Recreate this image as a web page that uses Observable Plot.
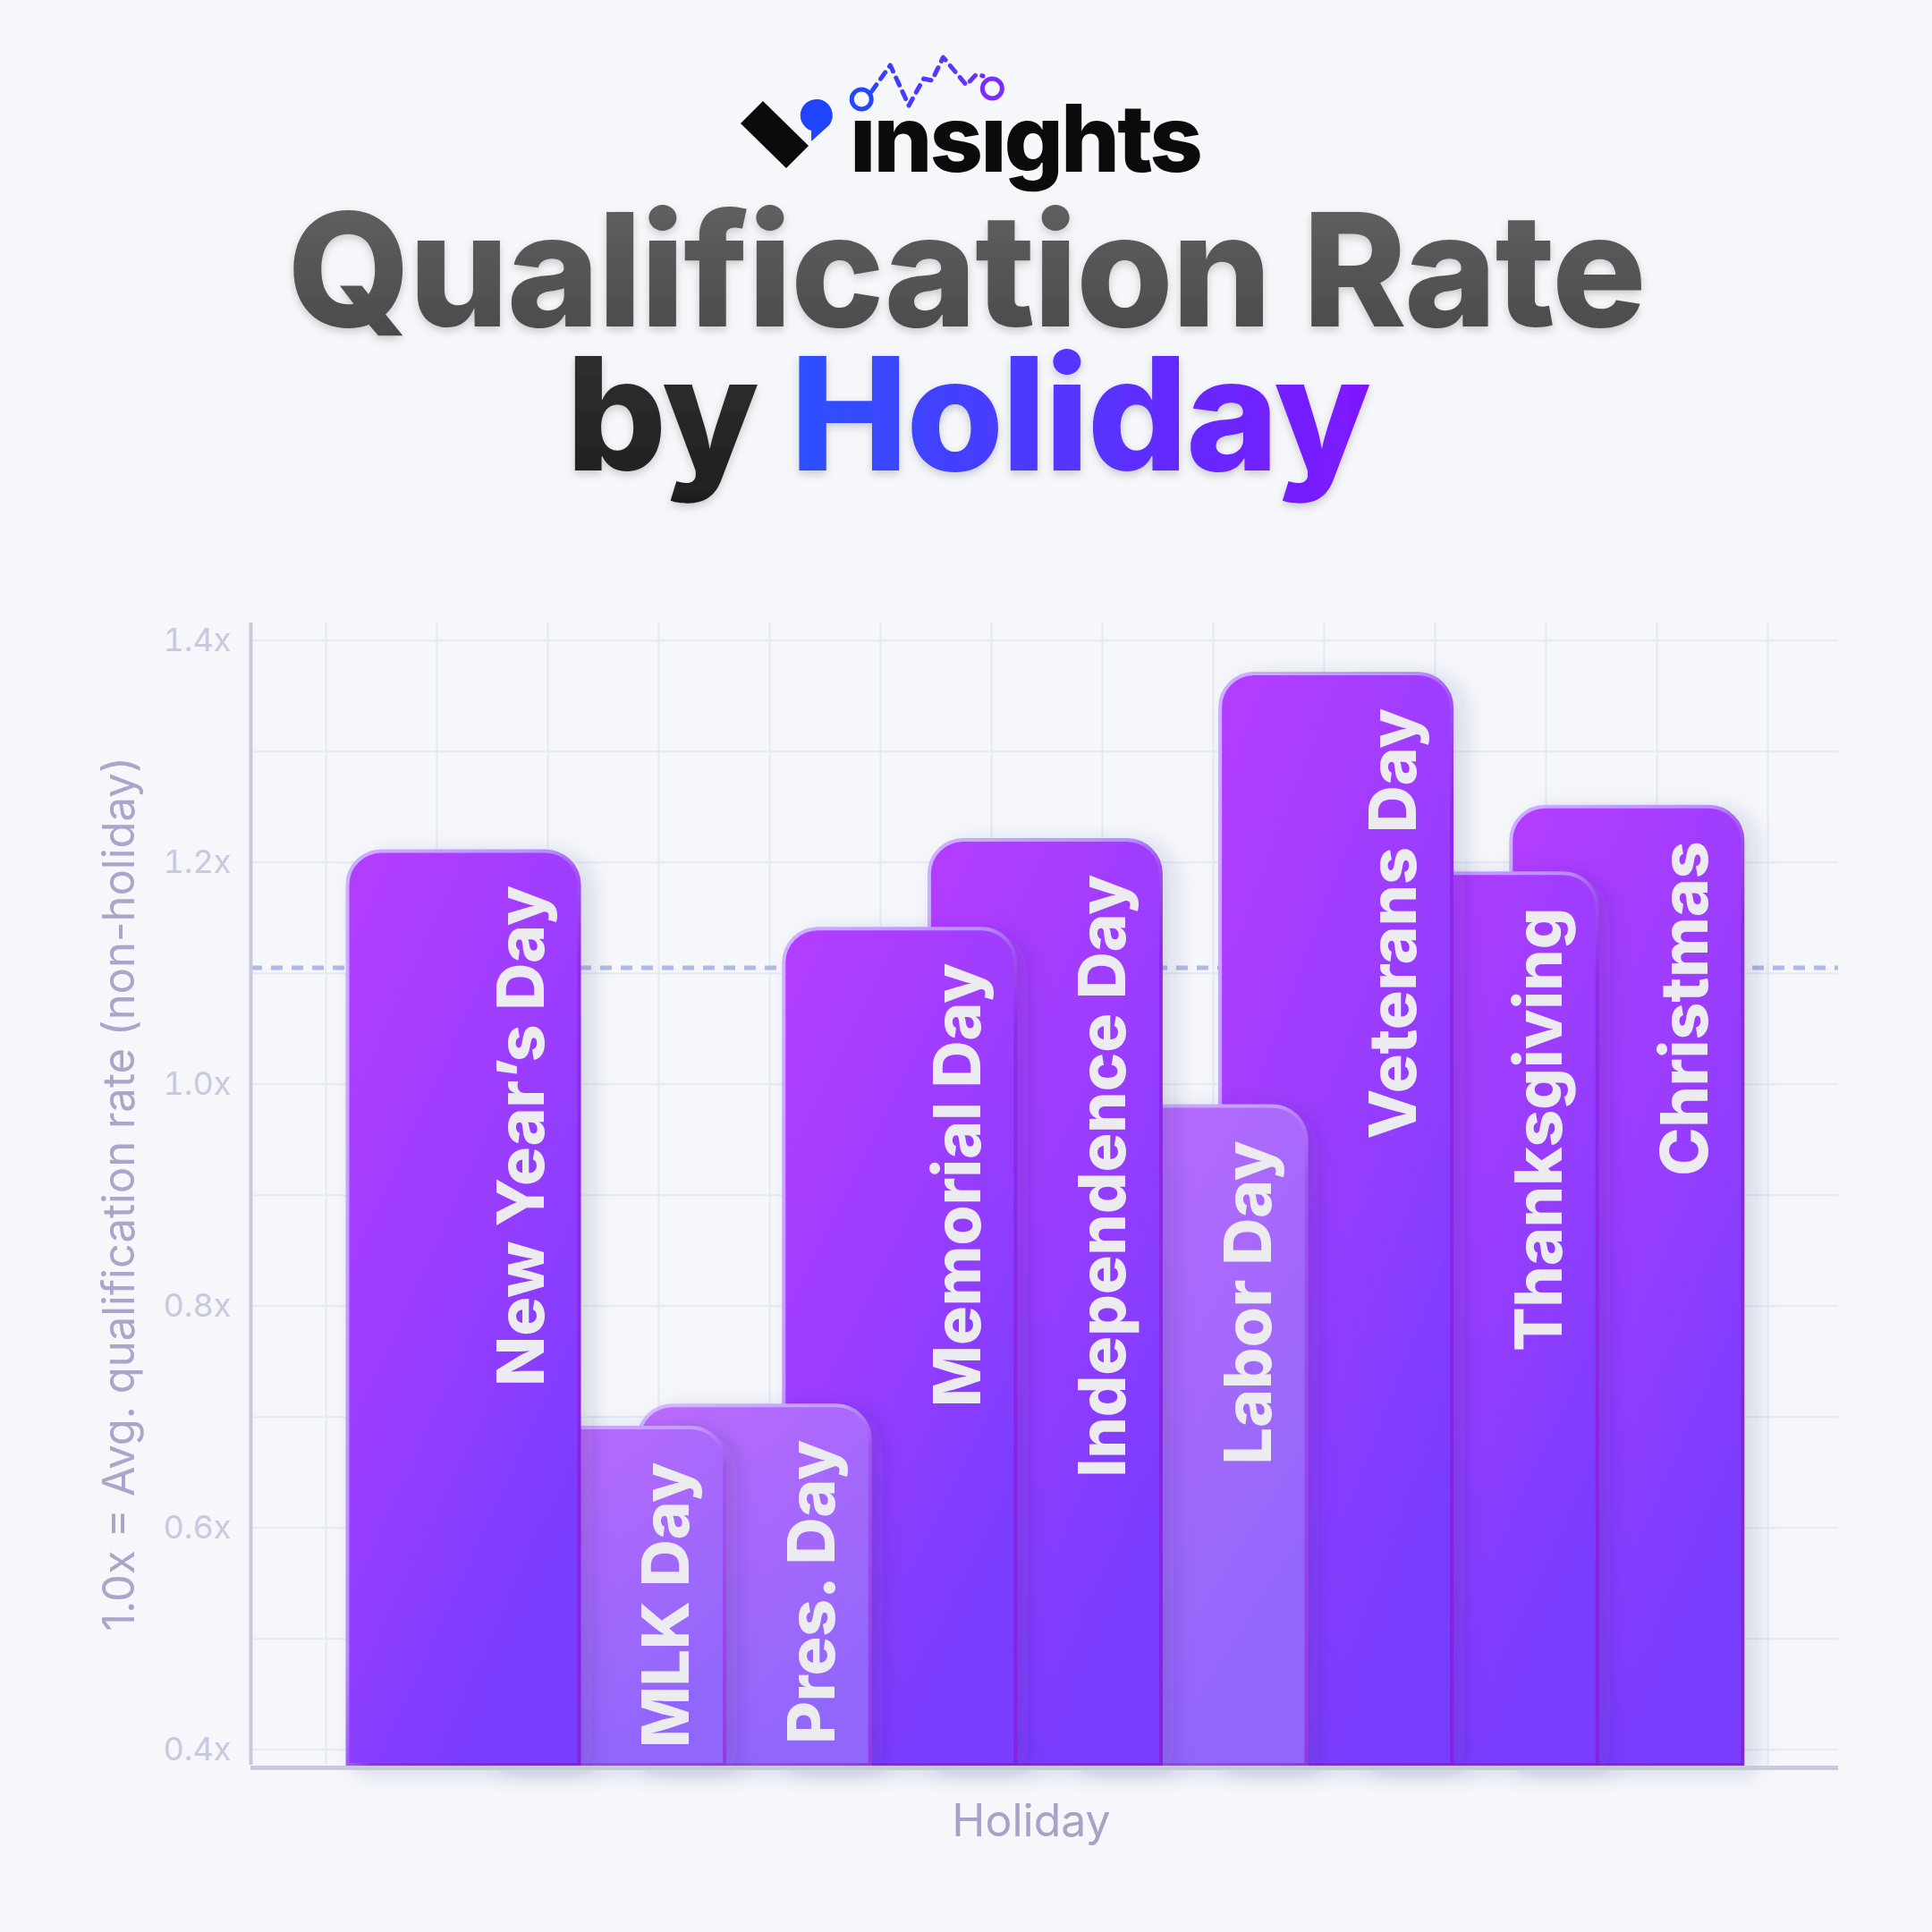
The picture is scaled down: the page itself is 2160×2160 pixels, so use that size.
<!DOCTYPE html>
<html>
<head>
<meta charset="utf-8">
<script src="https://cdn.jsdelivr.net/npm/d3@7"></script>
<script src="https://cdn.jsdelivr.net/npm/@observablehq/plot@0.6"></script>
<style>
  html, body { margin: 0; padding: 0; background: #f5f7fb; }
  #page { position: relative; width: 2160px; height: 2160px; overflow: hidden; background: #f5f7fb; font-family: Inter, "Noto Sans", sans-serif; }
  #header { position: absolute; left: 0; top: 0; }
  #chart { position: absolute; left: 0; top: 600px; }
</style>
</head>
<body>
<div id="page">
  <svg id="header" width="2160" height="600" xmlns="http://www.w3.org/2000/svg">
    <defs>
      <linearGradient id="dashGrad" gradientUnits="userSpaceOnUse" x1="950" y1="0" x2="1112" y2="0">
        <stop offset="0" stop-color="#2347ff"/><stop offset="1" stop-color="#7a2cff"/>
      </linearGradient>
      <linearGradient id="t1Grad" x1="0" y1="0" x2="0" y2="1">
        <stop offset="0" stop-color="#646464"/><stop offset="1" stop-color="#474747"/>
      </linearGradient>
      <linearGradient id="byGrad" x1="0" y1="0" x2="0" y2="1">
        <stop offset="0" stop-color="#333333"/><stop offset="1" stop-color="#1e1e1e"/>
      </linearGradient>
      <linearGradient id="holGrad" gradientUnits="userSpaceOnUse" x1="890" y1="0" x2="1525" y2="0">
        <stop offset="0" stop-color="#2c50ff"/><stop offset="1" stop-color="#7e18ff"/>
      </linearGradient>
      <filter id="titleShadow" x="-5%" y="-20%" width="110%" height="140%">
        <feDropShadow dx="0" dy="4" stdDeviation="5" flood-color="#000" flood-opacity="0.18"/>
      </filter>
    </defs>
    <path d="M828,138 L853,113 L904,163 L879,188 Z" fill="#0b0b0b"/>
    <path d="M907,158 L907,146 A18,18 0 1 1 927,140 Z" fill="#1f45ff"/>
    <text id="logoText" x="950" y="192" font-family="Inter, sans-serif" font-weight="800" font-size="104" letter-spacing="-3" fill="#0b0b0b">ınsıghts</text>
    <g id="logoDots"></g>
    <g filter="url(#titleShadow)">
      <text x="1080" y="365" text-anchor="middle" font-family="Inter, sans-serif" font-weight="800" font-size="176" letter-spacing="-2" fill="url(#t1Grad)">Qualification Rate</text>
      <text x="1082" y="526" text-anchor="middle" font-family="Inter, sans-serif" font-weight="800" font-size="176" letter-spacing="-2"><tspan fill="url(#byGrad)">by</tspan> <tspan fill="url(#holGrad)">Holiday</tspan></text>
    </g>
  </svg>
  <div id="chart"></div>
</div>
<script>
// ---- data ----
const holidays = ["New Year’s Day", "MLK Day", "Pres. Day", "Memorial Day", "Independence Day", "Labor Day", "Veterans Day", "Thanksgiving", "Christmas"];
const rates = [1.21, 0.69, 0.71, 1.14, 1.22, 0.98, 1.37, 1.19, 1.25];
const referenceRate = 1.105;
const yTicks = [0.4, 0.6, 0.8, 1.0, 1.2, 1.4];
const yGrid = [0.4, 0.5, 0.6, 0.7, 0.8, 0.9, 1.0, 1.1, 1.2, 1.3, 1.4];
const yLabel = "1.0x = Avg. qualification rate (non-holiday)";
const xLabel = "Holiday";

// ---- logo dots (decorative) ----
(function () {
  const NS = "http://www.w3.org/2000/svg";
  const t = document.getElementById("logoText");
  let c1x = 960, c2x = 1101;
  try {
    const e0 = t.getExtentOfChar(0), e3 = t.getExtentOfChar(3);
    c1x = e0.x + e0.width / 2; c2x = e3.x + e3.width / 2;
  } catch (e) {}
  const refPts = [[971,102],[991,73],[1011,118],[1027,88],[1036,90],[1048,64],[1073,95],[1084,83],[1091,85]];
  const k = (c2x - c1x) / (1101 - 960);
  const pts = refPts.map(([x, y]) => [c1x + (x - 960) * k, y]);
  const g = document.getElementById("logoDots");
  const pl = document.createElementNS(NS, "polyline");
  pl.setAttribute("points", pts.map(p => p.join(",")).join(" "));
  pl.setAttribute("fill", "none");
  pl.setAttribute("stroke", "url(#dashGrad)");
  pl.setAttribute("stroke-width", "5");
  pl.setAttribute("stroke-dasharray", "9,8");
  pl.setAttribute("stroke-linecap", "round");
  pl.setAttribute("stroke-linejoin", "round");
  g.appendChild(pl);
  [[c1x, 111, "#2347ff"], [c2x, 99, "#7a2cff"]].forEach(([x, y, c]) => {
    const ci = document.createElementNS(NS, "circle");
    ci.setAttribute("cx", x); ci.setAttribute("cy", y); ci.setAttribute("r", 11);
    ci.setAttribute("fill", "none"); ci.setAttribute("stroke", c); ci.setAttribute("stroke-width", 5);
    g.appendChild(ci);
  });
})();

// ---- chart ----
const data = holidays.map((holiday, i) => ({holiday, rate: rates[i], i}));
const drawOrder = data.slice().reverse(); // left bars overlap right bars
const xDomain = [-1.4637, 9.4526];
const yDomain = [0.386, 1.416];
const halfW = 0.7964;
const vGrid = d3.range(14).map(k => -0.9471 + k * 0.7626);

const svg = Plot.plot({
  width: 2160,
  height: 1493,
  marginLeft: 280,
  marginRight: 105,
  marginTop: 96,
  marginBottom: 120,
  style: {background: "transparent", fontFamily: "Inter, 'Noto Sans', sans-serif", fontSize: "36px", color: "#c9c8de"},
  x: {type: "linear", domain: xDomain, axis: null},
  y: {domain: yDomain},
  marks: [
    Plot.ruleY(yGrid, {stroke: "#e3e9f7", strokeWidth: 2}),
    Plot.ruleX(vGrid, {stroke: "#e3e9f7", strokeWidth: 2}),
    Plot.ruleY([referenceRate], {stroke: "#adbae6", strokeWidth: 5, strokeDasharray: "13,10"}),
    Plot.rect(drawOrder, {x1: d => d.i - halfW, x2: d => d.i + halfW, y1: yDomain[0], y2: "rate", fill: "#9b3cff"}),
    Plot.ruleX([xDomain[0]], {stroke: "#c9c9dc", strokeWidth: 4}),
    Plot.ruleY([yDomain[0]], {stroke: "#c9c9dc", strokeWidth: 5, dy: 3}),
    Plot.text(data, {x: "i", y: "rate", text: "holiday", rotate: -90, textAnchor: "end", lineAnchor: "middle", dx: 66, dy: 38, fill: "#ececf0", fontSize: 73, fontWeight: 800}),
    Plot.axisY(yTicks, {tickSize: 0, tickPadding: 22, tickFormat: d => d.toFixed(1) + "x", fill: "#c9c8de", fontSize: 36, label: null}),
    Plot.text([yLabel], {text: d => d, frameAnchor: "left", rotate: -90, dx: -146, fill: "#a9a6c9", fontSize: 49, textAnchor: "middle", lineAnchor: "middle"}),
    Plot.text([xLabel], {text: d => d, frameAnchor: "bottom", dy: 63, dx: -15, fill: "#a6a3c6", fontSize: 50, textAnchor: "middle", lineAnchor: "middle"})
  ]
});

// gradients, shadow and rounded tops for the bars
const NS = "http://www.w3.org/2000/svg";
const defs = document.createElementNS(NS, "defs");
defs.innerHTML = `
  <linearGradient id="barDark" x1="0" y1="0" x2="0.55" y2="1">
    <stop offset="0" stop-color="#b43cff"/><stop offset="0.5" stop-color="#9b3cff"/><stop offset="1" stop-color="#783cff"/>
  </linearGradient>
  <linearGradient id="barLight" x1="0" y1="0" x2="0.55" y2="1">
    <stop offset="0" stop-color="#bd6bfd"/><stop offset="1" stop-color="#9066fb"/>
  </linearGradient>
  <linearGradient id="strokeDark" x1="0" y1="0" x2="1" y2="1">
    <stop offset="0" stop-color="#cfb0ff"/><stop offset="0.44" stop-color="#b98cff"/>
    <stop offset="0.56" stop-color="#8f2ae8"/><stop offset="1" stop-color="#8420e0"/>
  </linearGradient>
  <linearGradient id="strokeLight" x1="0" y1="0" x2="1" y2="1">
    <stop offset="0" stop-color="#d4b8ff"/><stop offset="0.44" stop-color="#c39cff"/>
    <stop offset="0.56" stop-color="#9e55f0"/><stop offset="1" stop-color="#9438e6"/>
  </linearGradient>
  <filter id="barShadow" x="-30%" y="-10%" width="170%" height="125%">
    <feDropShadow dx="12" dy="6" stdDeviation="12" flood-color="#2b2b5e" flood-opacity="0.16"/>
  </filter>`;
svg.insertBefore(defs, svg.firstChild);

const barGroup = svg.querySelector('g[aria-label="rect"]');
if (barGroup) {
  barGroup.removeAttribute("fill");
  Array.from(barGroup.querySelectorAll("rect")).forEach((r, k) => {
    const d = drawOrder[k];
    const x = +r.getAttribute("x"), y = +r.getAttribute("y");
    const w = +r.getAttribute("width"), h = +r.getAttribute("height");
    const R = Math.min(38, w / 2, h);
    const p = document.createElementNS(NS, "path");
    p.setAttribute("d", `M${x},${y + h}V${y + R}A${R},${R} 0 0 1 ${x + R},${y}H${x + w - R}A${R},${R} 0 0 1 ${x + w},${y + R}V${y + h}Z`);
    p.setAttribute("fill", d.rate < 1 ? "url(#barLight)" : "url(#barDark)");
    p.setAttribute("stroke", d.rate < 1 ? "url(#strokeLight)" : "url(#strokeDark)");
    p.setAttribute("stroke-width", "4");
    p.setAttribute("filter", "url(#barShadow)");
    r.replaceWith(p);
  });
}

document.getElementById("chart").appendChild(svg);
</script>
</body>
</html>
